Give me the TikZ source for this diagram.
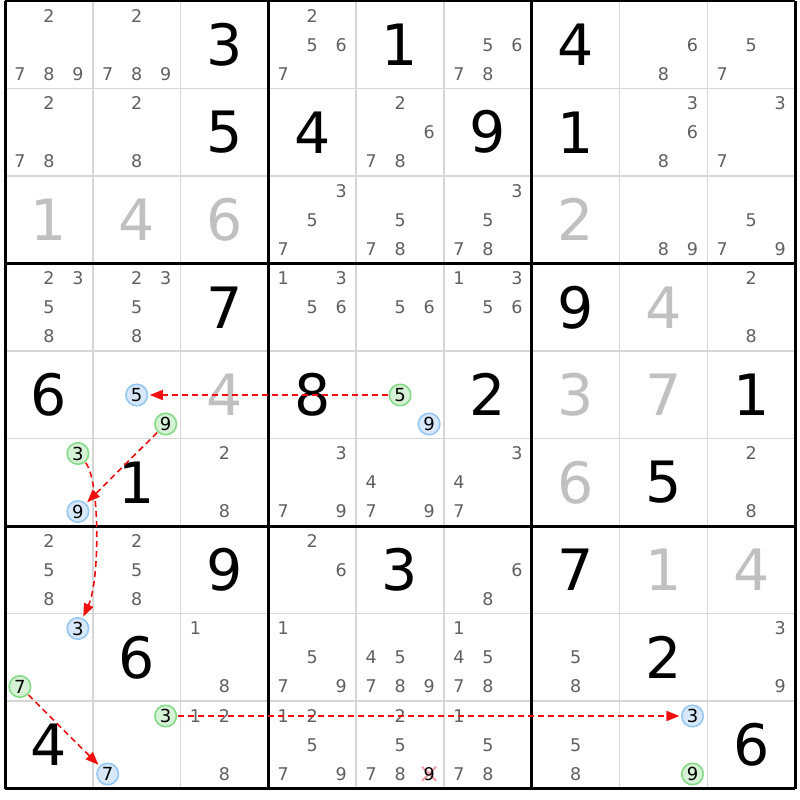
\documentclass[tikz,border=0pt]{standalone}
\usepackage{fontspec}
\setmainfont{DejaVu Sans}
\usetikzlibrary{arrows.meta}
\definecolor{candgray}{HTML}{606060}
\definecolor{solvedgray}{HTML}{C0C0C0}
\definecolor{thingrid}{HTML}{D6D6D6}
\definecolor{grnfill}{HTML}{D6F2D6}
\definecolor{grnline}{HTML}{86D986}
\definecolor{blufill}{HTML}{D6E8FA}
\definecolor{bluline}{HTML}{96C6F2}
\definecolor{linkred}{HTML}{F01010}
\definecolor{crosspink}{HTML}{F5A0A8}
\begin{document}
\begin{tikzpicture}[x=1pt,y=-1pt,
  given/.style={font=\fontsize{57}{57}\selectfont, text=black, inner sep=0pt},
  solved/.style={given, text=solvedgray},
  cand/.style={font=\fontsize{17.5}{17.5}\selectfont, text=candgray, inner sep=0pt},
  grn/.style={circle, draw=grnline, fill=grnfill, line width=1.6pt, minimum size=21.5pt, inner sep=0pt, font=\fontsize{18}{18}\selectfont, text=black},
  blu/.style={grn, draw=bluline, fill=blufill},
  thinline/.style={draw=thingrid, line width=1.5pt},
  thickline/.style={draw=black, line width=3pt},
  link/.style={draw=linkred, line width=1.6pt, dash pattern=on 6pt off 4pt, -{Triangle[length=13pt,width=10pt]}, shorten >=1.5pt, shorten <=0.5pt},
  crossmark/.style={draw=crosspink, line width=2pt},
]
\useasboundingbox[fill=white] (0,0) rectangle (800,800);
% thin grid
\foreach \c in {1,2,4,5,7,8} {
  \draw[thinline] ({5+87.8*\c},1) -- ({5+87.8*\c},788.5);
  \draw[thinline] (5,{1+87.5*\c}) -- (795,{1+87.5*\c});
}
% thick grid
\foreach \c in {0,3,6,9} {
  \draw[thickline] ({5+87.8*\c},1) -- ({5+87.8*\c},788.5);
  \draw[thickline] (5,{1+87.5*\c}) -- (795,{1+87.5*\c});
}
% givens
\foreach \r/\c/\v in {0/2/3,0/4/1,0/6/4,1/2/5,1/3/4,1/5/9,1/6/1,3/2/7,3/6/9,4/0/6,4/3/8,4/5/2,4/8/1,5/1/1,5/7/5,6/2/9,6/4/3,6/6/7,7/1/6,7/7/2,8/0/4,8/8/6} {
  \node[given] (v\r\c) at ({5+87.8*(\c+0.5)},{1+87.5*(\r+0.5)}) {\v};
}
% solved
\foreach \r/\c/\v in {2/0/1,2/1/4,2/2/6,2/6/2,3/7/4,4/2/4,4/6/3,4/7/7,5/6/6,6/7/1,6/8/4} {
  \node[solved] (s\r\c) at ({5+87.8*(\c+0.5)},{1+87.5*(\r+0.5)}) {\v};
}
% candidates
\foreach \r/\c/\ds in {0/0/{2,7,8,9},0/1/{2,7,8,9},0/3/{2,5,6,7},0/5/{5,6,7,8},0/7/{6,8},0/8/{5,7},
  1/0/{2,7,8},1/1/{2,8},1/4/{2,6,7,8},1/7/{3,6,8},1/8/{3,7},
  2/3/{3,5,7},2/4/{5,7,8},2/5/{3,5,7,8},2/7/{8,9},2/8/{5,7,9},
  3/0/{2,3,5,8},3/1/{2,3,5,8},3/3/{1,3,5,6},3/4/{5,6},3/5/{1,3,5,6},3/8/{2,8},
  5/2/{2,8},5/3/{3,7,9},5/4/{4,7,9},5/5/{3,4,7},5/8/{2,8},
  6/0/{2,5,8},6/1/{2,5,8},6/3/{2,6},6/5/{6,8},
  7/2/{1,8},7/3/{1,5,7,9},7/4/{4,5,7,8,9},7/5/{1,4,5,7,8},7/6/{5,8},7/8/{3,9},
  8/2/{1,2,8},8/3/{1,2,5,7,9},8/4/{2,5,7,8},8/5/{1,5,7,8},8/6/{5,8}} {
  \foreach \d in \ds {
    \pgfmathtruncatemacro\dc{mod(\d-1,3)-1}
    \pgfmathtruncatemacro\dr{floor((\d-1)/3)-1}
    \node[cand] (k\r\c\d) at ({5+87.8*(\c+0.5)+29*\dc},{1+87.5*(\r+0.5)+29*\dr}) {\d};
  }
}
% eliminated candidate
\draw[crossmark] (422.1,766.75) -- (436.1,780.75);
\draw[crossmark] (436.1,766.75) -- (422.1,780.75);
\node[cand, text=black] (x849) at (429.1,773.75) {9};
% highlighted candidates
\node[blu] (b41) at (136.7,395) {5};
\node[grn] (g41) at (165.7,424) {9};
\node[grn] (g44) at (400.1,395) {5};
\node[blu] (b44) at (429.1,424) {9};
\node[grn] (g50) at (77.9,453.5) {3};
\node[blu] (b50) at (77.9,511.5) {9};
\node[blu] (b70) at (77.9,628.5) {3};
\node[grn] (g70) at (19.9,686.5) {7};
\node[grn] (g81) at (165.7,716) {3};
\node[blu] (b81) at (107.7,774) {7};
\node[blu] (b87) at (692.5,716) {3};
\node[grn] (g87) at (692.5,774) {9};
% links
\draw[link] (g44) -- (b41);
\draw[link] (g41) -- (b50);
\draw[link] (g50) .. controls (100,480) and (100,580) .. (b70);
\draw[link] (g70) -- (b81);
\draw[link] (g81) -- (b87);
\end{tikzpicture}
\end{document}
